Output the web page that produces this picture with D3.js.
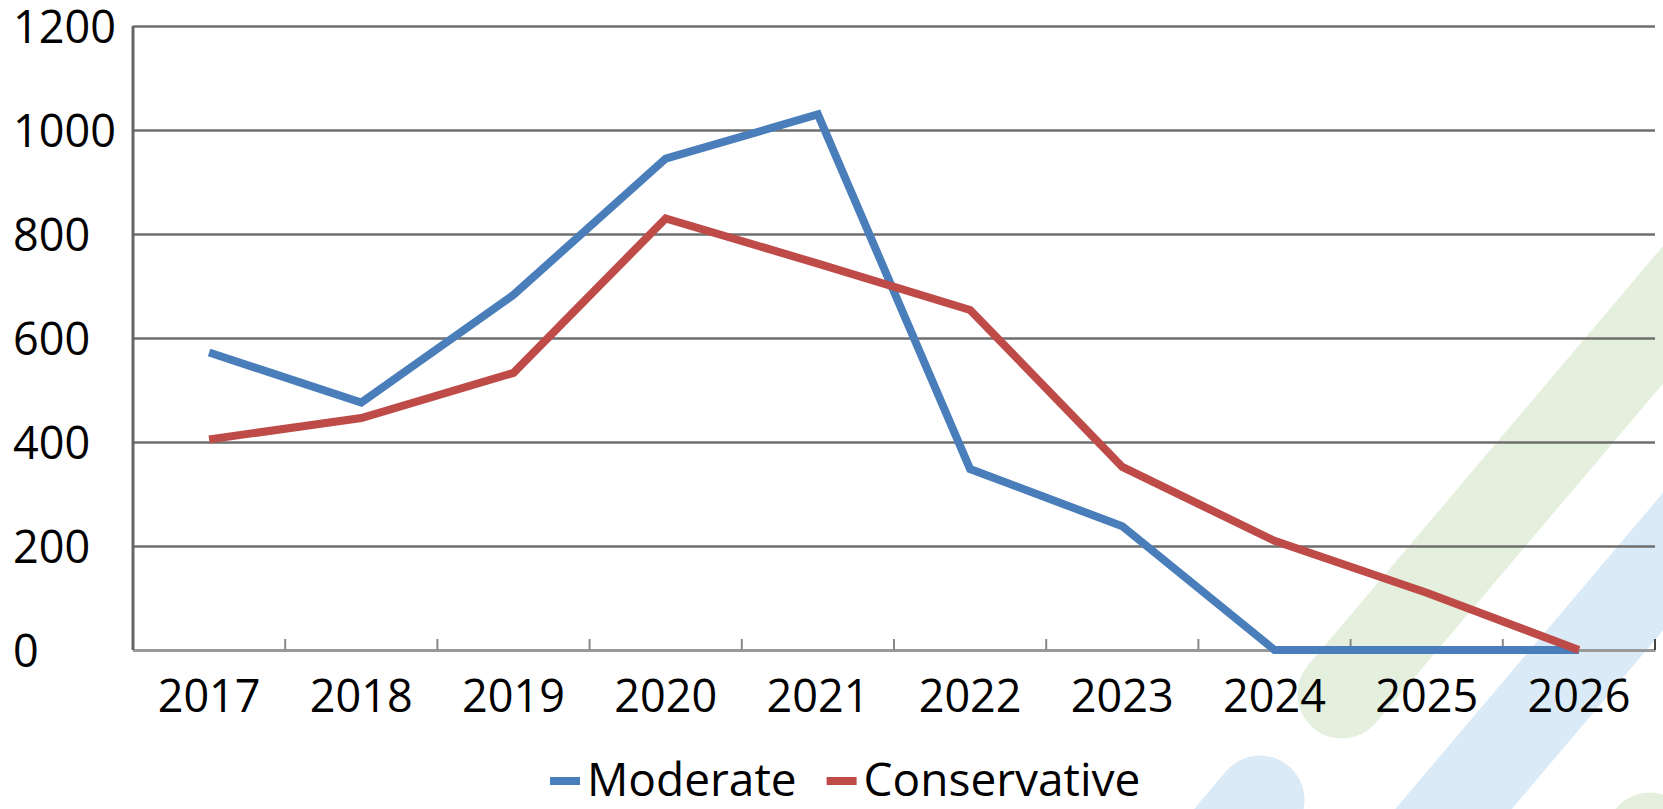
<!DOCTYPE html>
<html>
<head>
<meta charset="utf-8">
<script src="https://cdn.jsdelivr.net/npm/d3@7"></script>
<style>
  html, body { margin: 0; padding: 0; background: #fff; }
  svg { display: block; }
  svg text { font-family: "Open Sans", "Noto Sans", sans-serif; }
</style>
</head>
<body>
<div id="chart"></div>
<script>
// chart values
const years = ["2017", "2018", "2019", "2020", "2021", "2022", "2023", "2024", "2025", "2026"];
const moderate = [572, 476, 683, 945, 1030, 348, 238, 0, 0, 0];
const conservative = [405, 446, 533, 830, 743, 654, 352, 210, 110, 0];
const yTicks = [0, 200, 400, 600, 800, 1000, 1200];
const seriesNames = ["Moderate", "Conservative"];

const W = 1663, H = 809;
const margin = { top: 26, right: 8, bottom: 159, left: 133 };
const width = W - margin.left - margin.right;
const height = H - margin.top - margin.bottom;

const fontFamily = '"Open Sans", "Noto Sans", sans-serif';
const colors = { Moderate: "#4A7EBB", Conservative: "#BE4B48" };

const svg = d3.select("#chart").append("svg")
  .attr("width", W)
  .attr("height", H)
  .attr("font-family", fontFamily);

// light decorative bands behind the chart
const dir = [0.646, -0.763];
const bands = [
  { x: 1342, y: 694, len: 1200, color: "#E4F0DD", cap: "round" },
  { x: 1324, y: 962, len: 1100, color: "#DAEAF6", cap: "butt" },
  { x: 1260, y: 800, len: -250, color: "#DAEAF6", cap: "round" },
  { x: 1650, y: 837, len: -250, color: "#E4F0DD", cap: "round" }
];
svg.append("g").selectAll("line")
  .data(bands)
  .enter()
  .append("line")
  .attr("x1", d => d.x)
  .attr("y1", d => d.y)
  .attr("x2", d => d.x + dir[0] * d.len)
  .attr("y2", d => d.y + dir[1] * d.len)
  .attr("stroke", d => d.color)
  .attr("stroke-width", 89)
  .attr("stroke-linecap", d => d.cap);

const chartArea = svg.append("g")
  .attr("transform", `translate(${margin.left},${margin.top})`);

const x = d3.scaleBand().domain(years).range([0, width]);
const y = d3.scaleLinear().domain([0, 1200]).range([height, 0]);

// gridlines + y labels
const yAxis = chartArea.append("g")
  .call(d3.axisLeft(y).tickValues(yTicks).tickSize(-width).tickFormat(d3.format("d")))
  .attr("font-family", fontFamily)
  .attr("font-size", 45);
yAxis.select(".domain").remove();
yAxis.selectAll(".tick line")
  .attr("stroke", "#6e6e6e")
  .attr("stroke-width", 2.5);
yAxis.selectAll(".tick text")
  .attr("x", -120)
  .attr("dy", "0.36em")
  .attr("text-anchor", "start")
  .attr("fill", "#000");

// x axis line and labels
const xAxis = chartArea.append("g")
  .attr("transform", `translate(0,${height})`)
  .call(d3.axisBottom(x).tickSize(0).tickPadding(30))
  .attr("font-family", fontFamily)
  .attr("font-size", 45);
xAxis.select(".domain")
  .attr("stroke", "#999")
  .attr("stroke-width", 3);
xAxis.selectAll(".tick text")
  .attr("fill", "#000");

// category boundary ticks (pointing up)
const bounds = d3.range(years.length + 1).map(i => i * x.step());
chartArea.append("g").selectAll("line")
  .data(bounds)
  .enter()
  .append("line")
  .attr("x1", d => d)
  .attr("x2", d => d)
  .attr("y1", height - 11)
  .attr("y2", height)
  .attr("stroke", (d, i) => i === years.length ? "#444" : "#888")
  .attr("stroke-width", 2);

// y axis line
chartArea.append("line")
  .attr("x1", 0).attr("x2", 0)
  .attr("y1", 0).attr("y2", height)
  .attr("stroke", "#666")
  .attr("stroke-width", 3);

// series lines
const line = d3.line()
  .x((d, i) => x(years[i]) + x.bandwidth() / 2)
  .y(d => y(d));

[["Moderate", moderate], ["Conservative", conservative]].forEach(([name, vals]) => {
  chartArea.append("path")
    .datum(vals)
    .attr("d", line)
    .attr("fill", "none")
    .attr("stroke", colors[name])
    .attr("stroke-width", 8);
});

// legend (sits at the very bottom edge, as in the source)
const legend = svg.append("g").attr("transform", "translate(550,796)");
let lx = 0;
seriesNames.forEach(name => {
  legend.append("line")
    .attr("x1", lx).attr("x2", lx + 30)
    .attr("y1", -15).attr("y2", -15)
    .attr("stroke", colors[name])
    .attr("stroke-width", 8);
  const t = legend.append("text")
    .attr("x", lx + 37)
    .attr("y", 0)
    .attr("fill", "#000")
    .style("font-size", "46px")
    .text(name);
  lx += 37 + t.node().getComputedTextLength() + 30;
});
</script>
</body>
</html>
